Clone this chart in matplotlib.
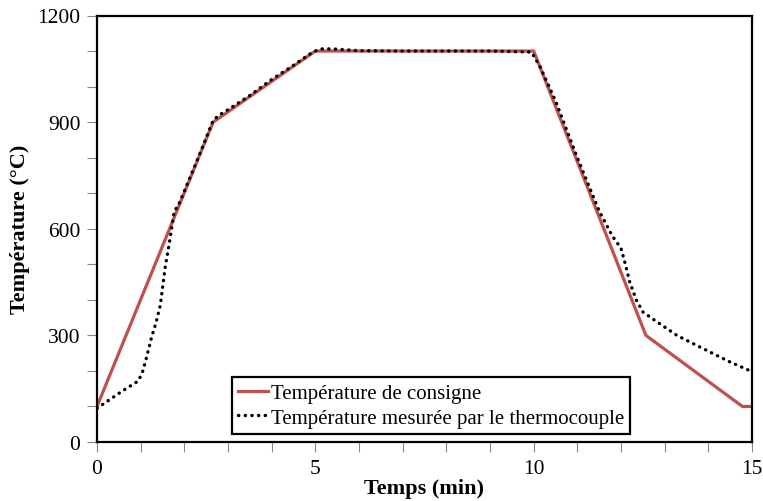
import matplotlib
matplotlib.use("Agg")
import matplotlib.pyplot as plt
from matplotlib.ticker import MultipleLocator

plt.rcParams['font.family'] = ['Liberation Serif', 'DejaVu Serif']

time_consigne = [0, 2.66, 5, 10, 12.57, 14.78, 15]
temp_consigne = [100, 900, 1100, 1100, 300, 100, 100]

time_mesure = [0, 0.3, 0.6, 0.95, 1.05, 1.15, 1.25, 1.35, 1.45, 1.56, 1.67, 1.77, 1.86,
               2.1, 2.4, 2.66, 2.8, 3.0, 3.5, 4.0, 4.5, 4.95, 5.15, 5.4, 6.0, 7.0, 8.0,
               9.0, 9.95, 10.15, 10.5, 11.0, 11.5, 11.8, 12.0, 12.1, 12.2, 12.35, 12.5,
               12.8, 13.28, 13.6, 14.04, 14.5, 15]
temp_mesure = [95, 120, 145, 172, 200, 245, 295, 335, 385, 490, 570, 650, 665,
               735, 825, 905, 920, 935, 975, 1020, 1060, 1098, 1106, 1106, 1101, 1100, 1100,
               1100, 1097, 1055, 960, 800, 650, 580, 545, 500, 450, 400, 366,
               340, 300, 280, 253, 225, 198]

label_consigne = "Température de consigne"
label_mesure = "Température mesurée par le thermocouple"

fig = plt.figure(figsize=(7.63, 5.02), dpi=100)
ax = fig.add_axes([97/763, 59/502, 655/763, 426.5/502])

ax.plot(time_consigne, temp_consigne, color='#C0504D', lw=2.3, label=label_consigne, zorder=2)
ax.plot(time_mesure, temp_mesure, color='black', lw=2.4, linestyle=(0, (0.1, 1.9)),
        dash_capstyle='round', label=label_mesure, zorder=3)

ax.set_xlim(0, 15)
ax.set_ylim(0, 1200)
ax.xaxis.set_major_locator(MultipleLocator(5))
ax.xaxis.set_minor_locator(MultipleLocator(1))
ax.yaxis.set_major_locator(MultipleLocator(300))
ax.yaxis.set_minor_locator(MultipleLocator(100))
ax.tick_params(which='both', direction='out', color='#888888', labelsize=15.5, width=0.8)
ax.tick_params(which='major', length=7, pad=5)
ax.tick_params(which='minor', length=7)
for s in ax.spines.values():
    s.set_linewidth(1.6)
    s.set_color('black')

ax.set_xlabel("Temps (min)", fontsize=16, fontweight='bold', labelpad=0)
ax.set_ylabel("Température (°C)", fontsize=16, fontweight='bold', labelpad=5)

leg = ax.legend(loc='lower left', bbox_to_anchor=(232/763, (502-435)/502),
                bbox_transform=fig.transFigure, fancybox=False, framealpha=1,
                edgecolor='black', fontsize=15, handlelength=1.45, handletextpad=0.1,
                borderpad=0.3, labelspacing=0.25, borderaxespad=0)
leg.get_frame().set_linewidth(1.6)

fig.savefig("out.png", dpi=100)
